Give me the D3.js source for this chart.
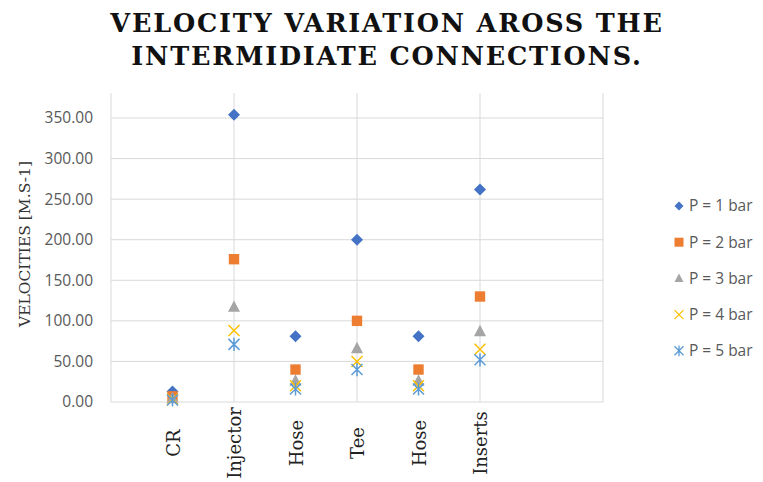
<!DOCTYPE html>
<html>
<head>
<meta charset="utf-8">
<script src="https://cdn.jsdelivr.net/npm/d3@7"></script>
<style>
  body { margin: 0; background: #fff; }
  svg { display: block; }
</style>
</head>
<body>
<div id="chart"></div>
<script>
// chart values
const categories = ["CR", "Injector", "Hose", "Tee", "Hose", "Inserts"];
const seriesNames = ["P = 1 bar", "P = 2 bar", "P = 3 bar", "P = 4 bar", "P = 5 bar"];
const p1 = [13, 354, 81, 200, 81, 262];
const p2 = [7, 176, 40, 100, 40, 130];
const p3 = [4.5, 117, 26, 66, 26, 87];
const p4 = [3.5, 88, 20, 50, 20, 65];
const p5 = [2.5, 71, 16, 40, 16, 52];
const yTicks = [0, 50, 100, 150, 200, 250, 300, 350];
const xGrid = [0, 2, 4, 6, 8];

const colors = ["#4472C4", "#ED7D31", "#A5A5A5", "#FFC000", "#5B9BD5"];
const shapes = ["diamond", "square", "triangle", "x", "star"];
const series = [p1, p2, p3, p4, p5].map((vals, i) => ({
  name: seriesNames[i], color: colors[i], shape: shapes[i],
  points: vals.map((v, j) => ({ x: j + 1, v }))
}));

const width = 763, height = 482;
const plotLeft = 111, plotRight = 603, plotTop = 93, plotBottom = 402;

const x = d3.scaleLinear().domain([0, 8]).range([plotLeft, plotRight]);
const y = d3.scaleLinear().domain([0, 350]).range([plotBottom, 118]);

// marker path generator, centred at 0,0
function marker(shape, r) {
  switch (shape) {
    case "diamond": return `M0,${-r}L${r},0L0,${r}L${-r},0Z`;
    case "square": return `M${-r},${-r}H${r}V${r}H${-r}Z`;
    case "triangle": return `M0,${-r * 1.1}L${r},${r * 0.8}L${-r},${r * 0.8}Z`;
    case "x": return `M${-r},${-r}L${r},${r}M${r},${-r}L${-r},${r}`;
    case "star": return `M${-r},${-r}L${r},${r}M${r},${-r}L${-r},${r}M0,${-r * 1.2}V${r * 1.2}`;
  }
}
const filled = s => s === "diamond" || s === "square" || s === "triangle";
const sizeOf = { diamond: 6, square: 5.2, triangle: 6, x: 5.5, star: 5.5 };

const svg = d3.select("#chart").append("svg")
  .attr("width", width)
  .attr("height", height)
  .attr("viewBox", [0, 0, width, height]);

// title
const titleLines = ["VELOCITY VARIATION AROSS THE", "INTERMIDIATE CONNECTIONS."];
svg.append("g")
  .selectAll("text")
  .data(titleLines)
  .join("text")
    .attr("x", 387).attr("y", (d, i) => 32 + i * 33)
    .attr("text-anchor", "middle")
    .attr("font-family", "DejaVu Serif")
    .attr("font-weight", "bold")
    .attr("font-size", 25.5)
    .attr("letter-spacing", 1.8)
    .attr("fill", "#111")
    .text(d => d);

// horizontal gridlines
svg.append("g")
  .selectAll("line")
  .data(yTicks)
  .join("line")
    .attr("x1", plotLeft).attr("x2", plotRight)
    .attr("y1", d => y(d)).attr("y2", d => y(d))
    .attr("stroke", "#d9d9d9").attr("stroke-width", 1);

// vertical gridlines
svg.append("g")
  .selectAll("line")
  .data(xGrid)
  .join("line")
    .attr("x1", d => x(d)).attr("x2", d => x(d))
    .attr("y1", plotTop).attr("y2", plotBottom)
    .attr("stroke", "#d9d9d9").attr("stroke-width", 1);

// y axis tick labels
svg.append("g")
  .attr("transform", `translate(${plotLeft},0)`)
  .call(d3.axisLeft(y).tickValues(yTicks).tickFormat(d3.format(".2f")).tickSize(0).tickPadding(18))
  .call(g => g.select(".domain").remove())
  .call(g => g.selectAll("text")
    .attr("font-family", "Open Sans")
    .attr("font-size", 15.5)
    .attr("fill", "#595959"));

// y axis title
svg.append("text")
  .attr("transform", "translate(30,244) rotate(-90)")
  .attr("text-anchor", "middle")
  .attr("font-family", "DejaVu Serif")
  .attr("font-size", 15.5)
  .attr("fill", "#333")
  .text("VELOCITIES [M.S-1]");

// category labels, rotated
svg.append("g")
  .selectAll("text")
  .data(categories)
  .join("text")
    .attr("transform", (d, i) => `translate(${x(i + 1) + 7},443) rotate(-90)`)
    .attr("text-anchor", "middle")
    .attr("font-family", "DejaVu Serif")
    .attr("font-size", 18)
    .attr("fill", "#222")
    .text(d => d);

// markers
const gSeries = svg.append("g")
  .selectAll("g")
  .data(series)
  .join("g");

gSeries.selectAll("path")
  .data(s => s.points.map(p => ({ ...p, s })))
  .join("path")
    .attr("transform", d => `translate(${x(d.x)},${y(d.v)})`)
    .attr("d", d => marker(d.s.shape, sizeOf[d.s.shape]))
    .attr("fill", d => filled(d.s.shape) ? d.s.color : "none")
    .attr("stroke", d => filled(d.s.shape) ? "none" : d.s.color)
    .attr("stroke-width", 1.5);

// legend
const legend = svg.append("g")
  .selectAll("g")
  .data(series)
  .join("g")
    .attr("transform", (d, i) => `translate(679,${206 + i * 36.2})`);

legend.append("path")
  .attr("d", d => marker(d.shape, 4.5))
  .attr("fill", d => filled(d.shape) ? d.color : "none")
  .attr("stroke", d => filled(d.shape) ? "none" : d.color)
  .attr("stroke-width", 1.3);

legend.append("text")
  .attr("x", 10)
  .attr("dy", "0.35em")
  .attr("font-family", "Open Sans")
  .attr("font-size", 15.5)
  .attr("fill", "#595959")
  .text(d => d.name);
</script>
</body>
</html>
